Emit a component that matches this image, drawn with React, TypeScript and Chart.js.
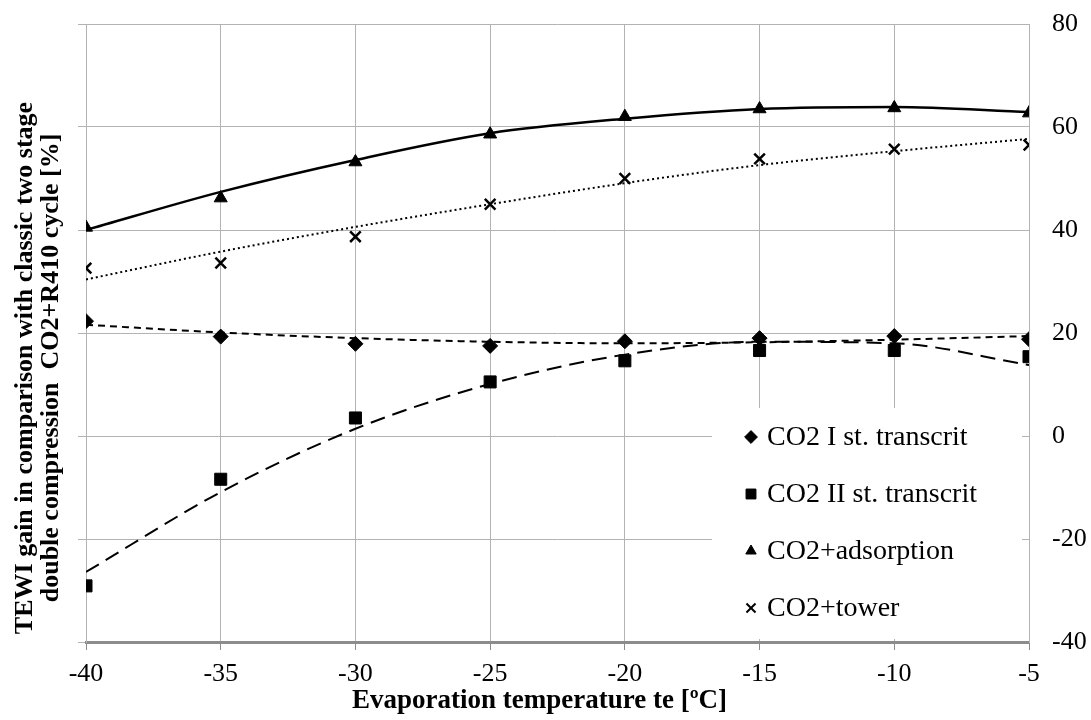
import React, { useEffect, useRef } from 'react';
import { Chart, registerables } from 'chart.js';
import { drawPoint } from 'chart.js/helpers';

Chart.register(...registerables);

// ---------- data ----------
const temps = [-40, -35, -30, -25, -20, -15, -10, -5];
const seriesNames = ['CO2 I st. transcrit', 'CO2 II st. transcrit', 'CO2+adsorption', 'CO2+tower'];
const stage1 = [22.3, 19.3, 17.9, 17.5, 18.4, 19.0, 19.4, 18.8];
const stage2 = [-29.1, -8.4, 3.5, 10.5, 14.6, 16.6, 16.6, 15.4];
const adsorption = [40.5, 46.2, 53.2, 58.6, 62.0, 63.5, 63.7, 62.7];
const tower = [32.6, 33.6, 38.7, 45.0, 50.0, 53.8, 55.7, 56.5];
// trend lines at each temperature
const stage1Trend = [21.6, 20.1, 19.0, 18.3, 18.0, 18.2, 18.7, 19.4];
const stage2Trend = [-26.4, -10.9, 1.4, 10.1, 15.8, 18.3, 18.0, 13.8];
const adsorptionTrend = [40.0, 47.4, 53.6, 58.8, 61.6, 63.5, 63.9, 62.9];
const towerTrend = [30.4, 35.8, 40.6, 45.0, 49.1, 52.6, 55.3, 57.7];
const xRange = [-40, -5];
const yRange = [-40, 80];
const xTitle = 'Evaporation temperature te [ºC]';
const yTitleLines = ['TEWI gain in comparison with classic two stage', 'double compression  CO2+R410 cycle [%]'];

const FONT = "'Liberation Serif', 'Times New Roman', serif";
const GRID = '#b3b3b3';

const toXY = (vals: number[]) => vals.map((v, i) => ({ x: temps[i], y: v }));

const markerStyles = ['rectRot', 'rect', 'triangle', 'crossRot'];
const markerRadius = [7.5, 8.5, 7.5, 7.5];
const legendRadius = [6.4, 7, 6, 6.4];

const insetLegend = {
  id: 'insetLegend',
  afterDraw(chart: any) {
    const { ctx, chartArea } = chart;
    const left = chartArea.right - 317;
    const top = chartArea.top + 384;
    const right = chartArea.right - 7;
    const bottom = chartArea.bottom - 3;
    ctx.save();
    ctx.fillStyle = '#ffffff';
    ctx.fillRect(left, top, right - left, bottom - top);
    ctx.font = `28px ${FONT}`;
    ctx.textBaseline = 'middle';
    ctx.textAlign = 'left';
    seriesNames.forEach((name, i) => {
      const y = top + 29 + i * 57;
      ctx.fillStyle = '#000';
      ctx.strokeStyle = '#000';
      ctx.lineWidth = markerStyles[i] === 'crossRot' ? 2 : 1;
      drawPoint(ctx, { pointStyle: markerStyles[i], radius: legendRadius[i], rotation: 0, borderWidth: ctx.lineWidth } as any, left + 39, y);
      ctx.fillStyle = '#000';
      ctx.fillText(name, left + 55, y + 1);
    });
    ctx.restore();
  },
};

const axisTitles = {
  id: 'axisTitles',
  afterDraw(chart: any) {
    const { ctx, chartArea } = chart;
    ctx.save();
    ctx.fillStyle = '#000';
    ctx.textAlign = 'center';
    ctx.textBaseline = 'middle';
    // x-axis title
    ctx.font = `bold 27px ${FONT}`;
    ctx.fillText(xTitle, (chartArea.left + chartArea.right) / 2 - 18, chartArea.bottom + 59);
    // y-axis title (two rotated lines)
    ctx.font = `bold 26px ${FONT}`;
    ctx.translate(0, chartArea.top + 344);
    ctx.rotate(-Math.PI / 2);
    ctx.fillText(yTitleLines[0], 0, 25);
    ctx.fillText(yTitleLines[1], 0, 51);
    ctx.restore();
  },
};

export default function App() {
  const ref = useRef<HTMLCanvasElement>(null);
  useEffect(() => {
    if (!ref.current) return;
    const pointSets = [stage1, stage2, adsorption, tower];
    const trendSets = [stage1Trend, stage2Trend, adsorptionTrend, towerTrend];
    const dashes = [[7, 5], [15, 8], [], [2, 3]];
    const widths = [2, 2, 2.5, 2];
    const datasets: any[] = [];
    pointSets.forEach((vals, i) => {
      datasets.push({
        label: seriesNames[i],
        data: toXY(vals),
        showLine: false,
        pointStyle: markerStyles[i],
        pointRadius: markerRadius[i],
        pointBackgroundColor: '#000',
        pointBorderColor: '#000',
        pointBorderWidth: markerStyles[i] === 'crossRot' ? 2.5 : 1,
        borderColor: '#000',
        backgroundColor: '#000',
      });
    });
    trendSets.forEach((vals, i) => {
      datasets.push({
        label: seriesNames[i] + ' trend',
        data: toXY(vals),
        showLine: true,
        pointRadius: 0,
        borderColor: '#000',
        borderWidth: widths[i],
        borderDash: dashes[i],
        cubicInterpolationMode: 'monotone',
        fill: false,
      });
    });
    const chart = new Chart(ref.current, {
      type: 'line',
      data: { datasets },
      plugins: [insetLegend, axisTitles],
      options: {
        animation: false,
        responsive: true,
        maintainAspectRatio: false,
        layout: { padding: { left: 78, top: 24, right: 0, bottom: 0 } },
        plugins: { legend: { display: false }, tooltip: { enabled: false } },
        scales: {
          x: {
            type: 'linear',
            position: 'bottom',
            min: xRange[0],
            max: xRange[1],
            ticks: { stepSize: 5, color: '#000', font: { family: FONT, size: 26, lineHeight: 1 }, padding: 11 },
            grid: { color: GRID, lineWidth: 1, tickLength: 8, tickColor: '#8c8c8c' },
            border: { color: '#8c8c8c', width: 3 },
            afterFit: (scale: any) => { scale.height = 78; },
          },
          y: {
            type: 'linear',
            position: 'right',
            min: yRange[0],
            max: yRange[1],
            ticks: { stepSize: 20, color: '#000', font: { family: FONT, size: 26 }, padding: 23 },
            grid: { color: GRID, lineWidth: 1, drawTicks: false },
            border: { color: GRID, width: 1 },
            afterFit: (scale: any) => { scale.width = 62; scale.paddingTop = 0; scale.paddingBottom = 0; },
          },
          yLeft: {
            type: 'linear',
            position: 'left',
            min: yRange[0],
            max: yRange[1],
            ticks: { stepSize: 20, display: false },
            grid: { color: GRID, drawOnChartArea: false, tickLength: 8 },
            border: { color: GRID, width: 1 },
          },
        },
      } as any,
    });
    return () => chart.destroy();
  }, []);
  return (
    <div style={{ position: 'absolute', left: 0, top: 0, width: 1091, height: 720, background: '#fff' }}>
      <canvas ref={ref} />
    </div>
  );
}
